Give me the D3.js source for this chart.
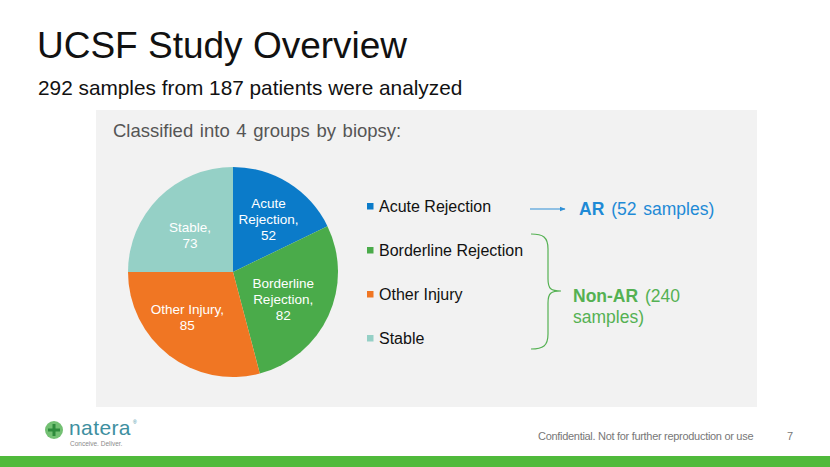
<!DOCTYPE html>
<html>
<head>
<meta charset="utf-8">
<script src="https://cdn.jsdelivr.net/npm/d3@7"></script>
<style>
  body { margin: 0; background: #fff; }
  svg { display: block; font-family: "Liberation Sans", Arial, sans-serif; }
</style>
</head>
<body>
<div id="vis"></div>
<script>
var groups = ["Acute Rejection", "Borderline Rejection", "Other Injury", "Stable"];
var samples = [52, 82, 85, 73];
var sliceLabels = [["Acute", "Rejection,", "52"], ["Borderline", "Rejection,", "82"], ["Other Injury,", "85"], ["Stable,", "73"]];
var colors = ["#0b7bc9", "#4aab4a", "#f07623", "#95d0c6"];
// nudges of the slice labels away from the plain centroid, as the reference places them
var labelShift = [[1, 2], [-9, 0], [-6, -7], [3, 9]];

var width = 830, height = 467;
var svg = d3.select("#vis").append("svg")
  .attr("width", width)
  .attr("height", height);

////////// title //////////
svg.append("text").attr("x", 37).attr("y", 58)
  .style("font-size", "37px").style("fill", "#111")
  .text("UCSF Study Overview");
svg.append("text").attr("x", 38).attr("y", 95)
  .style("font-size", "20.8px").style("fill", "#111")
  .text("292 samples from 187 patients were analyzed");

////////// panel //////////
svg.append("rect").attr("x", 96).attr("y", 110).attr("width", 661).attr("height", 297)
  .style("fill", "#f2f2f2");
svg.append("text").attr("x", 113).attr("y", 137)
  .style("font-size", "18.5px").style("fill", "#555").style("word-spacing", "1.5px")
  .text("Classified into 4 groups by biopsy:");

////////// pie //////////
var cx = 233, cy = 272, r = 105;
var pie = d3.pie().sort(null)(samples);
var arc = d3.arc().innerRadius(0).outerRadius(r);
var g = svg.append("g").attr("transform", "translate(" + cx + "," + cy + ")");
g.selectAll("path").data(pie).enter().append("path")
  .attr("d", arc)
  .style("fill", function (d, i) { return colors[i]; });

var labelArc = d3.arc().innerRadius(r * 0.62).outerRadius(r * 0.62);
g.selectAll("text.lbl").data(pie).enter().append("text")
  .attr("class", "lbl")
  .attr("text-anchor", "middle")
  .style("font-size", "13.5px").style("fill", "#fff")
  .each(function (d, i) {
    var c = labelArc.centroid(d);
    var lx = c[0] + labelShift[i][0], ly = c[1] + labelShift[i][1];
    var lines = sliceLabels[i];
    var t = d3.select(this);
    lines.forEach(function (s, j) {
      t.append("tspan")
        .attr("x", lx)
        .attr("y", ly + (j - (lines.length - 1) / 2) * 16 + 5)
        .text(s);
    });
  });

////////// legend //////////
var legendY = d3.scalePoint().domain(groups).range([212, 344]);
var legend = svg.selectAll("g.leg").data(groups).enter().append("g")
  .attr("class", "leg")
  .attr("transform", function (d) { return "translate(367," + legendY(d) + ")"; });
legend.append("rect").attr("x", 0).attr("y", -9).attr("width", 6.5).attr("height", 6.5)
  .style("fill", function (d, i) { return colors[i]; });
legend.append("text").attr("x", 12).attr("y", 0)
  .style("font-size", "16px").style("fill", "#111")
  .text(function (d) { return d; });

////////// AR annotation //////////
var blue = "#2f8fd6";
svg.append("defs").append("marker")
  .attr("id", "arrow").attr("viewBox", "0 0 10 10")
  .attr("refX", 9).attr("refY", 5)
  .attr("markerWidth", 6).attr("markerHeight", 6)
  .attr("orient", "auto")
  .append("path").attr("d", "M0,1L10,5L0,9Z").style("fill", blue);
svg.append("line").attr("x1", 530).attr("y1", 209).attr("x2", 565).attr("y2", 209)
  .style("stroke", blue).style("stroke-width", 1)
  .attr("marker-end", "url(#arrow)");
var ar = svg.append("text").attr("x", 579).attr("y", 215)
  .style("font-size", "17.5px").style("fill", "#1e8ad6").style("word-spacing", "2px");
ar.append("tspan").style("font-weight", "bold").text("AR");
ar.append("tspan").text(" (52 samples)");

////////// Non-AR brace //////////
var green = "#55b153";
svg.append("path")
  .attr("d", "M531,234 C543,234 548,237 548,249 L548,279 C548,289 551,291 561,291 C551,291 548,293 548,303 L548,334 C548,346 543,349 531,349")
  .style("fill", "none").style("stroke", green).style("stroke-width", 1.2);
var nonAr = svg.append("text").style("font-size", "17.5px").style("fill", green).style("word-spacing", "2px");
nonAr.append("tspan").attr("x", 573).attr("y", 302).style("font-weight", "bold").text("Non-AR");
nonAr.append("tspan").text(" (240");
nonAr.append("tspan").attr("x", 573).attr("y", 323).text("samples)");

////////// footer //////////
var logo = svg.append("g").attr("transform", "translate(54,430)");
logo.append("circle").attr("r", 9).style("fill", "#5bb55a").style("opacity", 0.85);
logo.append("path").attr("d", "M-1.5,-6H1.5V-1.5H6V1.5H1.5V6H-1.5V1.5H-6V-1.5H-1.5Z").style("fill", "#2e8b3c");
svg.append("text").attr("x", 69).attr("y", 435)
  .style("font-size", "21px").style("fill", "#3e8fa0").style("letter-spacing", "0.4px")
  .text("natera");
svg.append("text").attr("x", 133).attr("y", 424)
  .style("font-size", "5px").style("fill", "#3e8fa0")
  .text("®");
svg.append("text").attr("x", 70).attr("y", 446)
  .style("font-size", "6.5px").style("fill", "#8a8a8a")
  .text("Conceive. Deliver.");
svg.append("text").attr("x", 538).attr("y", 440)
  .style("font-size", "11px").style("fill", "#777").style("letter-spacing", "-0.3px")
  .text("Confidential. Not for further reproduction or use");
svg.append("text").attr("x", 787).attr("y", 440)
  .style("font-size", "11px").style("fill", "#777")
  .text("7");
svg.append("rect").attr("x", 0).attr("y", 456).attr("width", width).attr("height", 11)
  .style("fill", "#50ba3b");
</script>
</body>
</html>
